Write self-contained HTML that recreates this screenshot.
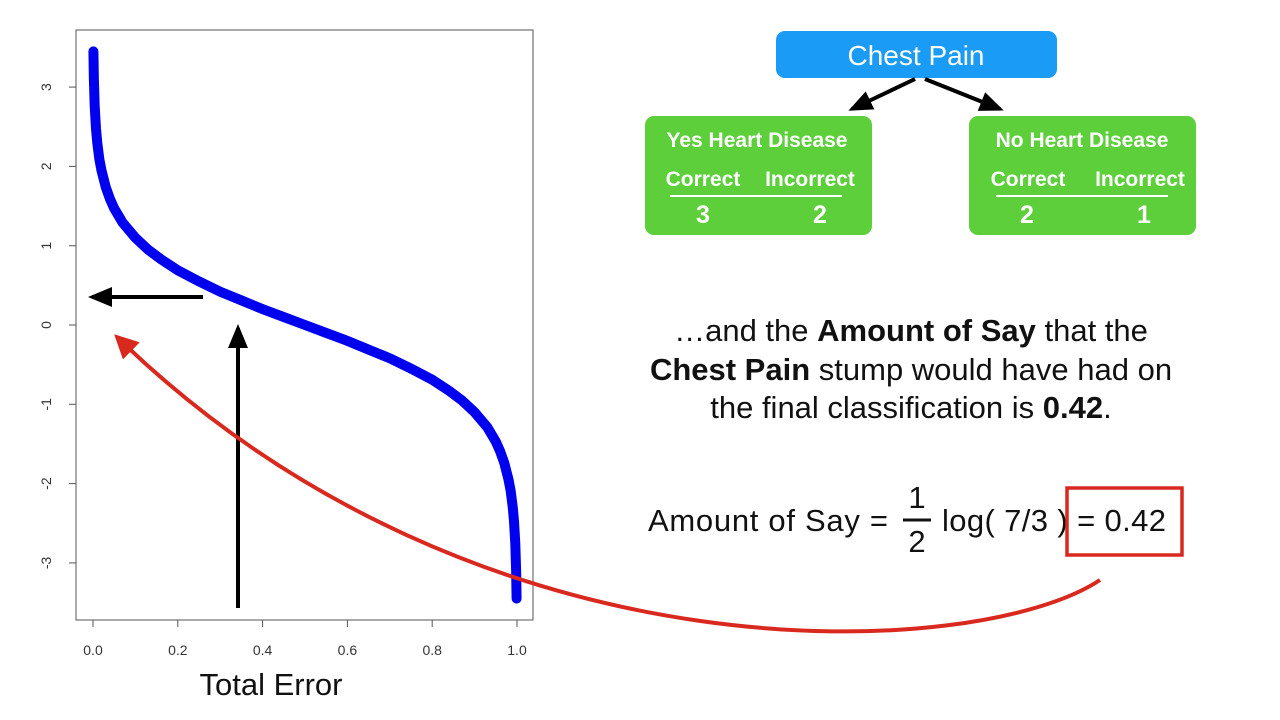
<!DOCTYPE html>
<html><head><meta charset="utf-8"><style>
body{margin:0;background:#fff;width:1280px;height:720px;overflow:hidden;font-family:"Liberation Sans",sans-serif}
svg{position:absolute;left:0;top:0}
</style></head><body>
<svg width="1280" height="720">
<defs>
<marker id="ah" markerWidth="6" markerHeight="6" refX="5" refY="3" orient="auto" markerUnits="strokeWidth"><path d="M0,0.5 L6,3 L0,5.5 Z" fill="#000"/></marker>
<marker id="ahr" markerWidth="6" markerHeight="6" refX="5" refY="3" orient="auto" markerUnits="strokeWidth"><path d="M0,0 L6,3 L0,6 Z" fill="#d9281e"/></marker>
</defs>
<rect x="76" y="30" width="457" height="590" fill="none" stroke="#555" stroke-width="1"/>
<g id="axes"></g>
<path id="curve" fill="none" stroke="#0000ee" stroke-width="10" stroke-linecap="round"/>
<text x="271" y="695" font-size="31" text-anchor="middle" fill="#111">Total Error</text>
<line x1="203" y1="297" x2="92" y2="297" stroke="#000" stroke-width="4" marker-end="url(#ah)"/>
<line x1="238" y1="608" x2="238" y2="328" stroke="#000" stroke-width="4" marker-end="url(#ah)"/>
<path d="M1100,580 C980,660 480,690 117,337" fill="none" stroke="#d9281e" stroke-width="4" marker-end="url(#ahr)"/>

<rect x="776" y="31" width="281" height="47" rx="9" fill="#1a9bf5"/>
<text x="916" y="65" font-size="28" fill="#fff" text-anchor="middle">Chest Pain</text>
<line x1="915" y1="79" x2="852" y2="109" stroke="#000" stroke-width="4" marker-end="url(#ah)"/>
<line x1="925" y1="79" x2="1000" y2="109" stroke="#000" stroke-width="4" marker-end="url(#ah)"/>

<g font-weight="bold" fill="#fff" font-size="21">
<rect x="645" y="116" width="227" height="119" rx="9" fill="#5ccf3a"/>
<text x="757" y="147" text-anchor="middle">Yes Heart Disease</text>
<text x="703" y="186" text-anchor="middle">Correct</text>
<text x="810" y="186" text-anchor="middle">Incorrect</text>
<line x1="670" y1="196" x2="842" y2="196" stroke="#fff" stroke-width="2"/>
<text x="703" y="223" text-anchor="middle" font-size="25">3</text>
<text x="820" y="223" text-anchor="middle" font-size="25">2</text>
</g>
<g font-weight="bold" fill="#fff" font-size="21">
<rect x="969" y="116" width="227" height="119" rx="9" fill="#5ccf3a"/>
<text x="1082" y="147" text-anchor="middle">No Heart Disease</text>
<text x="1028" y="186" text-anchor="middle">Correct</text>
<text x="1140" y="186" text-anchor="middle">Incorrect</text>
<line x1="996" y1="196" x2="1168" y2="196" stroke="#fff" stroke-width="2"/>
<text x="1027" y="223" text-anchor="middle" font-size="25">2</text>
<text x="1144" y="223" text-anchor="middle" font-size="25">1</text>
</g>

<g font-size="31" fill="#111" text-anchor="middle">
<text x="911" y="341">…and the <tspan font-weight="bold">Amount of Say</tspan> that the</text>
<text x="911" y="380"><tspan font-weight="bold">Chest Pain</tspan> stump would have had on</text>
<text x="911" y="418">the final classification is <tspan font-weight="bold">0.42</tspan>.</text>
</g>
<g font-size="31" fill="#111">
<text x="648" y="531" textLength="240">Amount of Say =</text>
<text x="917" y="508" text-anchor="middle">1</text>
<line x1="903" y1="520" x2="931" y2="520" stroke="#111" stroke-width="3"/>
<text x="917" y="552" text-anchor="middle">2</text>
<text x="942" y="531" textLength="224">log( 7/3 ) = 0.42</text>
</g>
<rect x="1067" y="488" width="115" height="67" fill="none" stroke="#d9281e" stroke-width="3.5"/>
</svg>
<script>
const xTicks=[0,0.2,0.4,0.6,0.8,1.0];
const xTickLabels=["0.0","0.2","0.4","0.6","0.8","1.0"];
const yTicks=[-3,-2,-1,0,1,2,3];
const yTickLabels=["-3","-2","-1","0","1","2","3"];
const errorValues=[0.001,0.002,0.004,0.007,0.01,0.015,0.02,0.03,0.04,0.05,0.07,0.1,0.13,0.16,0.2,0.25,0.3,0.35,0.4,0.45,0.5,0.55,0.6,0.65,0.7,0.75,0.8,0.84,0.87,0.9,0.93,0.95,0.96,0.97,0.98,0.985,0.99,0.993,0.996,0.998,0.999];
const sayValues=[3.45,3.11,2.76,2.48,2.30,2.09,1.95,1.74,1.59,1.47,1.29,1.10,0.95,0.83,0.69,0.55,0.42,0.31,0.20,0.10,0,-0.10,-0.20,-0.31,-0.42,-0.55,-0.69,-0.83,-0.95,-1.10,-1.29,-1.47,-1.59,-1.74,-1.95,-2.09,-2.30,-2.48,-2.76,-3.11,-3.45];
const sx=v=>93+v*424, sy=v=>325-v*79.3;
const NS="http://www.w3.org/2000/svg";
const g=document.getElementById('axes');
function mk(t,a){const e=document.createElementNS(NS,t);for(const k in a)e.setAttribute(k,a[k]);g.appendChild(e);return e;}
xTicks.forEach((v,i)=>{
 const l=mk('line',{x1:sx(v),x2:sx(v),y1:620,y2:627,stroke:'#555'});
 
 
 const t=mk('text',{x:sx(v),y:655,'font-size':14,'text-anchor':'middle',fill:'#333'});t.textContent=xTickLabels[i];
 
 
});
yTicks.forEach((v,i)=>{
 const l=mk('line',{x1:69,x2:76,y1:sy(v),y2:sy(v),stroke:'#555'});
 
 
 const t=mk('text',{x:0,y:0,'font-size':14,'text-anchor':'middle',fill:'#333',transform:`translate(51,${sy(v)}) rotate(-90)`});t.textContent=yTickLabels[i];
 
 
});
document.getElementById('curve').setAttribute('d',errorValues.map((v,i)=>(i?'L':'M')+sx(v)+','+sy(sayValues[i])).join(' '));
</script>
</body></html>
